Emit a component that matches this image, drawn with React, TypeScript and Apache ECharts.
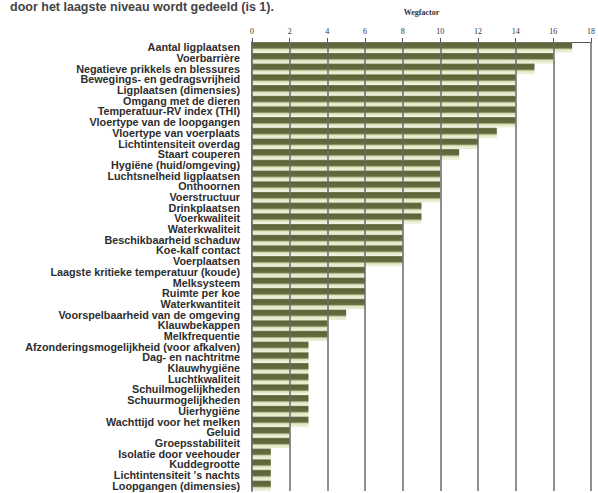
import React, { useEffect, useRef } from "react";
import * as echarts from "echarts";

const categories = [
  "Aantal ligplaatsen",
  "Voerbarrière",
  "Negatieve prikkels en blessures",
  "Bewegings- en gedragsvrijheid",
  "Ligplaatsen (dimensies)",
  "Omgang met de dieren",
  "Temperatuur-RV index (THI)",
  "Vloertype van de loopgangen",
  "Vloertype van voerplaats",
  "Lichtintensiteit overdag",
  "Staart couperen",
  "Hygiëne (huid/omgeving)",
  "Luchtsnelheid ligplaatsen",
  "Onthoornen",
  "Voerstructuur",
  "Drinkplaatsen",
  "Voerkwaliteit",
  "Waterkwaliteit",
  "Beschikbaarheid schaduw",
  "Koe-kalf contact",
  "Voerplaatsen",
  "Laagste kritieke temperatuur (koude)",
  "Melksysteem",
  "Ruimte per koe",
  "Waterkwantiteit",
  "Voorspelbaarheid van de omgeving",
  "Klauwbekappen",
  "Melkfrequentie",
  "Afzonderingsmogelijkheid (voor afkalven)",
  "Dag- en nachtritme",
  "Klauwhygiëne",
  "Luchtkwaliteit",
  "Schuilmogelijkheden",
  "Schuurmogelijkheden",
  "Uierhygiëne",
  "Wachttijd voor het melken",
  "Geluid",
  "Groepsstabiliteit",
  "Isolatie door veehouder",
  "Kuddegrootte",
  "Lichtintensiteit 's nachts",
  "Loopgangen (dimensies)",
];

const values = [
  17, 16, 15, 14, 14, 14, 14, 14, 13, 12, 11, 10, 10, 10, 10, 9, 9, 8, 8, 8, 8,
  6, 6, 6, 6, 5, 4, 4, 3, 3, 3, 3, 3, 3, 3, 3, 2, 2, 1, 1, 1, 1,
];

const tickValues = [0, 2, 4, 6, 8, 10, 12, 14, 16, 18];

const axisTitle = "Wegfactor";
const headerText = "door het laagste niveau wordt gedeeld (is 1).";

export default function App() {
  const ref = useRef<HTMLDivElement>(null);

  useEffect(() => {
    document.body.style.margin = "0";
    const chart = echarts.init(ref.current!, null, { renderer: "svg" });
    chart.setOption({
      animation: false,
      backgroundColor: "#ffffff",
      graphic: [
        {
          type: "text",
          left: 10,
          top: 0,
          style: {
            text: headerText,
            font: "bold 12.5px 'Liberation Sans'",
            fill: "#444",
          },
        },
      ],
      grid: { left: 252, right: 1, top: 42, bottom: 2 },
      xAxis: {
        type: "value",
        position: "top",
        min: 0,
        max: 18,
        interval: 2,
        name: axisTitle,
        nameLocation: "middle",
        nameGap: 26,
        nameTextStyle: {
          fontFamily: "Liberation Serif",
          fontWeight: "bold",
          fontSize: 8,
          color: "#333",
        },
        axisLine: { show: true, lineStyle: { color: "#555", width: 1 } },
        axisTick: { show: true, length: 4, lineStyle: { color: "#555" } },
        axisLabel: {
          fontFamily: "Liberation Serif",
          fontSize: 8,
          color: "#333",
          margin: 7,
        },
        splitLine: { show: false },
      },
      yAxis: {
        type: "category",
        data: categories,
        inverse: true,
        axisLine: { show: true, lineStyle: { color: "#444", width: 1.5 } },
        axisTick: { show: false },
        axisLabel: {
          interval: 0,
          fontFamily: "Liberation Sans",
          fontWeight: "bold",
          fontSize: 10.8,
          color: "#2e2e2e",
          margin: 12,
        },
        splitLine: { show: false },
      },
      series: [
        {
          type: "bar",
          data: values,
          barCategoryGap: "4%",
          itemStyle: {
            color: new echarts.graphic.LinearGradient(0, 0, 0, 1, [
              { offset: 0, color: "#858b5e" },
              { offset: 0.12, color: "#5c6336" },
              { offset: 0.55, color: "#666c40" },
              { offset: 0.7, color: "#d8ddb6" },
              { offset: 0.9, color: "#f0f2da" },
              { offset: 1, color: "#dfe3c2" },
            ]),
          },
          markLine: {
            silent: true,
            symbol: "none",
            label: { show: false },
            lineStyle: { color: "#6a6a6a", width: 1.5, type: "solid" },
            data: tickValues.map((v) => ({ xAxis: v })),
          },
        },
      ],
    });
    return () => chart.dispose();
  }, []);

  return (
    <div
      ref={ref}
      style={{ position: "fixed", left: 0, top: 0, width: 598, height: 493 }}
    />
  );
}
